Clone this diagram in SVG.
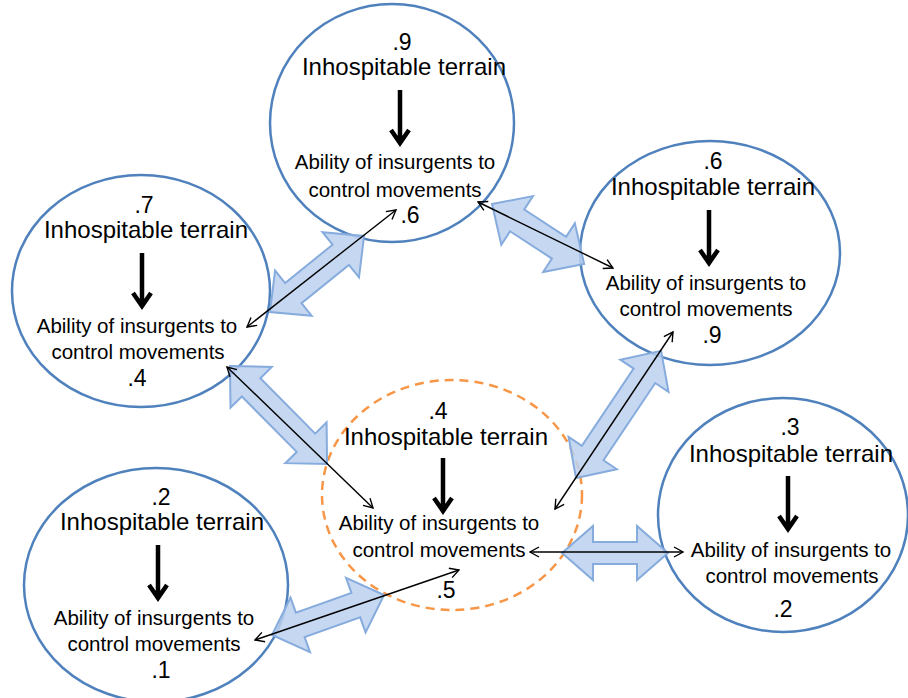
<svg xmlns="http://www.w3.org/2000/svg" xmlns:xlink="http://www.w3.org/1999/xlink" width="908" height="698" viewBox="0 0 908 698">
<style>
.ell{fill:none;stroke:#4f81bd;stroke-width:2.5}
.dash{fill:none;stroke:#f79646;stroke-width:2.5;stroke-dasharray:9 6}
.t{font-family:"Liberation Sans",Arial,sans-serif;font-size:24px;fill:#000;text-anchor:middle}
.n{font-family:"Liberation Sans",Arial,sans-serif;font-size:23px;fill:#000;text-anchor:middle}
.b{font-family:"Liberation Sans",Arial,sans-serif;font-size:20.5px;fill:#000;text-anchor:middle}
.blk{fill:#bcd1ee;fill-opacity:0.85;stroke:#86abdd;stroke-width:2;stroke-linejoin:miter}
.ln{stroke:#000;stroke-width:1.4;fill:none;marker-start:url(#ah);marker-end:url(#ah)}
</style>
<defs>
<marker id="ah" viewBox="0 0 12 12" refX="11" refY="6" markerWidth="12" markerHeight="12" markerUnits="userSpaceOnUse" orient="auto-start-reverse">
<path d="M2,1 L11,6 L2,11" fill="none" stroke="#000" stroke-width="1.4"/>
</marker>
<path id="down" d="M0,0 V54 M-9,40 L0,53 L9,40" fill="none" stroke="#000" stroke-width="4.5" stroke-linejoin="miter" stroke-linecap="butt"/>
</defs>
<rect width="908" height="698" fill="#fff"/>

<g id="node-top">
<ellipse class="ell" cx="392" cy="123" rx="122" ry="119"/>
<text class="n" x="402" y="50">.9</text>
<text class="t" x="404" y="75">Inhospitable terrain</text>
<use xlink:href="#down" x="400" y="90"/>
<text class="b" x="395" y="169">Ability of insurgents to</text>
<text class="b" x="395" y="197">control movements</text>
<text class="n" x="410" y="223">.6</text>
</g>

<g id="node-left">
<ellipse class="ell" cx="141" cy="291" rx="129" ry="116"/>
<text class="n" x="144" y="213">.7</text>
<text class="t" x="146" y="238">Inhospitable terrain</text>
<use xlink:href="#down" x="142" y="253"/>
<text class="b" x="137" y="333">Ability of insurgents to</text>
<text class="b" x="138" y="359">control movements</text>
<text class="n" x="137" y="386">.4</text>
</g>

<g id="node-right">
<ellipse class="ell" cx="710" cy="253" rx="130" ry="112"/>
<text class="n" x="713" y="169">.6</text>
<text class="t" x="713" y="195">Inhospitable terrain</text>
<use xlink:href="#down" x="709" y="210"/>
<text class="b" x="706" y="290">Ability of insurgents to</text>
<text class="b" x="706" y="316">control movements</text>
<text class="n" x="712" y="343">.9</text>
</g>

<g id="node-center">
<ellipse class="dash" cx="452" cy="495" rx="130" ry="115"/>
<text class="n" x="438" y="419">.4</text>
<text class="t" x="446" y="445">Inhospitable terrain</text>
<use xlink:href="#down" x="443" y="458"/>
<text class="b" x="439" y="530">Ability of insurgents to</text>
<text class="b" x="439" y="557">control movements</text>
<text class="n" x="446" y="598">.5</text>
</g>

<g id="node-bottom-left">
<ellipse class="ell" cx="156" cy="585" rx="132" ry="117"/>
<text class="n" x="161" y="505">.2</text>
<text class="t" x="162" y="530">Inhospitable terrain</text>
<use xlink:href="#down" x="158" y="545"/>
<text class="b" x="154" y="625">Ability of insurgents to</text>
<text class="b" x="154" y="651">control movements</text>
<text class="n" x="161" y="678">.1</text>
</g>

<g id="node-bottom-right">
<ellipse class="ell" cx="783" cy="515" rx="125" ry="117"/>
<text class="n" x="790" y="435">.3</text>
<text class="t" x="791" y="462">Inhospitable terrain</text>
<use xlink:href="#down" x="788" y="476"/>
<text class="b" x="791" y="557">Ability of insurgents to</text>
<text class="b" x="792" y="583">control movements</text>
<text class="n" x="783" y="617">.2</text>
</g>

<g id="connectors">
<path class="blk" transform="translate(270,312) rotate(-38.96)" d="M0,0 L30,-29 L30,-13 L91,-13 L91,-29 L121,0 L91,29 L91,13 L30,13 L30,29 Z"/>
<path class="blk" transform="translate(492,204) rotate(33.1)" d="M0,0 L30,-29 L30,-13 L80,-13 L80,-29 L110,0 L80,29 L80,13 L30,13 L30,29 Z"/>
<path class="blk" transform="translate(230,366) rotate(45.3)" d="M0,0 L30,-29 L30,-13 L108,-13 L108,-29 L138,0 L108,29 L108,13 L30,13 L30,29 Z"/>
<path class="blk" transform="translate(576,478) rotate(-56.2)" d="M0,0 L30,-29 L30,-13 L123,-13 L123,-29 L153,0 L123,29 L123,13 L30,13 L30,29 Z"/>
<path class="blk" transform="translate(562,553)" d="M0,0 L31,-27 L31,-11 L75,-11 L75,-27 L106,0 L75,27 L75,11 L31,11 L31,27 Z"/>
<path class="blk" transform="translate(272,635) rotate(-19.65)" d="M0,0 L30,-29 L30,-13 L89,-13 L89,-29 L119,0 L89,29 L89,13 L30,13 L30,29 Z"/>
<line class="ln" x1="247" y1="327" x2="396" y2="210"/>
<line class="ln" x1="478" y1="202" x2="613" y2="268"/>
<line class="ln" x1="227" y1="367" x2="373" y2="508"/>
<line class="ln" x1="673" y1="332" x2="555" y2="509"/>
<line class="ln" x1="530" y1="552" x2="683" y2="552"/>
<line class="ln" x1="255" y1="640" x2="459" y2="570"/>
</g>
</svg>
